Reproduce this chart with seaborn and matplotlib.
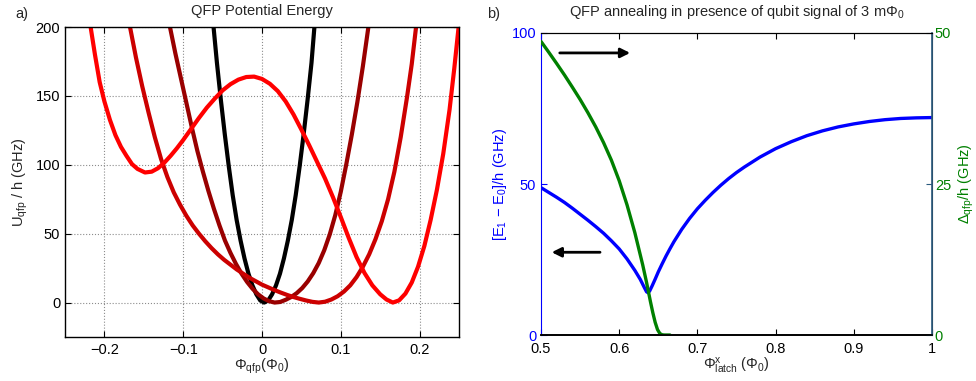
import numpy as np
import pandas as pd
import matplotlib.pyplot as plt
import seaborn as sns

# ---- panel a) : QFP potential ----
black_x = [-0.0615, -0.0572, -0.0522, -0.0472, -0.0422, -0.0372, -0.0322, -0.0272, -0.0222,
           -0.0172, -0.0122, -0.0072, -0.0022, 0.0028, 0.0078, 0.0128, 0.0178, 0.0228, 0.0278,
           0.0328, 0.0378, 0.0428, 0.0478, 0.0528, 0.0578, 0.0628, 0.0665]
black_y = [200, 174, 147, 122, 99, 78, 60, 45, 32, 21, 12.5, 6, 1.5, 0, 1.5, 6, 12.5, 21, 32,
           45, 60, 78, 99, 122, 147, 174, 200]

dark_x = [-0.1168, -0.11, -0.103, -0.096, -0.089, -0.082, -0.075, -0.068, -0.061, -0.054,
          -0.047, -0.04, -0.033, -0.026, -0.019, -0.012, -0.005, 0.002, 0.009, 0.016, 0.023,
          0.03, 0.037, 0.044, 0.051, 0.058, 0.065, 0.072, 0.079, 0.086, 0.093, 0.1, 0.107,
          0.114, 0.121, 0.128, 0.135]
dark_y = [200, 181, 163, 145, 127, 110, 95, 81, 68, 56, 45, 36, 28, 21, 15, 10, 6, 3, 1, 0,
          0.4, 2, 4, 6.8, 10.5, 15.3, 21.3, 28.7, 38, 49.5, 63.5, 80.5, 100.5, 122, 145.5,
          171.5, 200]

mid_x = [-0.1675, -0.16, -0.152, -0.144, -0.136, -0.128, -0.12, -0.112, -0.104, -0.096, -0.088,
         -0.08, -0.072, -0.064, -0.056, -0.048, -0.04, -0.032, -0.024, -0.016, -0.008, 0.0,
         0.008, 0.016, 0.024, 0.032, 0.04, 0.048, 0.056, 0.064, 0.072, 0.08, 0.088, 0.096,
         0.104, 0.112, 0.12, 0.128, 0.136, 0.144, 0.152, 0.16, 0.168, 0.176, 0.184, 0.19, 0.1955]
mid_y = [200, 178, 157, 138, 120, 104, 91, 80, 71, 63, 56, 50, 44.5, 39.5, 35, 31, 27.5, 24,
         21, 18, 15.5, 13, 11, 9, 7.2, 5.5, 4, 2.7, 1.5, 0.5, 0, 0.6, 2.2, 4.6, 8, 12.5, 18.5,
         26, 35, 46, 59, 75, 95, 120, 149, 173, 200]

red_x = [-0.2175, -0.212, -0.206, -0.2, -0.193, -0.186, -0.179, -0.172, -0.165, -0.158, -0.1485,
         -0.14, -0.132, -0.124, -0.116, -0.108, -0.1, -0.09, -0.08, -0.07, -0.06, -0.05, -0.04,
         -0.03, -0.02, -0.01, 0.0, 0.01, 0.02, 0.03, 0.04, 0.05, 0.06, 0.07, 0.08, 0.09, 0.1,
         0.11, 0.12, 0.13, 0.14, 0.15, 0.158, 0.166, 0.174, 0.182, 0.19, 0.198, 0.206, 0.214,
         0.222, 0.23, 0.238, 0.244, 0.2495]
red_y = [200, 180, 160, 146, 132.6, 121.5, 113, 106.5, 100.5, 97, 94.4, 95, 97.5, 101.5, 106.5,
         112, 118, 126, 134, 141.5, 148, 154, 158.5, 161.8, 163.7, 164, 162.3, 158.8, 153.5,
         146, 136.5, 125.5, 114, 102, 90, 76.5, 62, 47, 33, 21.5, 12.5, 6, 2.2, 0, 1.6, 6.5,
         14.5, 26, 41, 60, 82, 108, 140, 170, 200]

curve_colors = ['black', '#990000', '#cc0000', '#ff0000']

# ---- panel b) : annealing ----
gap_x = [0.5, 0.51, 0.52, 0.53, 0.54, 0.55, 0.56, 0.57, 0.58, 0.59, 0.6, 0.61, 0.62, 0.627,
         0.632, 0.635, 0.637, 0.639, 0.642, 0.646, 0.65, 0.655, 0.66, 0.665, 0.67, 0.68, 0.69,
         0.7, 0.71, 0.72, 0.73, 0.74, 0.75, 0.76, 0.78, 0.8, 0.82, 0.84, 0.86, 0.88, 0.9, 0.92,
         0.94, 0.96, 0.98, 1.0]
gap_y = [48.8, 47.2, 45.6, 43.9, 42.0, 40.0, 38.0, 35.9, 33.7, 31.2, 28.5, 25.2, 21.4, 18.4,
         15.8, 14.3, 14.0, 14.6, 16.2, 18.5, 20.9, 23.6, 26.2, 28.6, 30.9, 35.0, 38.6, 41.8,
         44.6, 47.2, 49.6, 51.8, 53.8, 55.6, 58.9, 61.7, 64.0, 66.0, 67.6, 68.9, 69.9, 70.7,
         71.3, 71.7, 71.9, 72.0]

delta_x = [0.5, 0.51, 0.52, 0.53, 0.54, 0.55, 0.56, 0.57, 0.58, 0.59, 0.6, 0.61, 0.62, 0.63,
           0.635, 0.64, 0.643, 0.646, 0.649, 0.652, 0.655, 0.658, 0.665]
delta_y = [48.6, 46.8, 44.95, 43.05, 41.05, 39.0, 36.8, 34.45, 31.85, 28.95, 25.55, 21.55,
           16.95, 11.65, 8.7, 5.5, 3.7, 2.1, 0.9, 0.25, 0.03, 0, 0]

sns.set_style('ticks')
plt.rcParams['font.family'] = ['Liberation Sans', 'DejaVu Sans']
plt.rcParams['mathtext.fontset'] = 'custom'
plt.rcParams['mathtext.rm'] = 'Liberation Sans'
plt.rcParams['mathtext.it'] = 'Liberation Sans:italic'
plt.rcParams['mathtext.default'] = 'regular'
plt.rcParams['font.size'] = 10.5

fig = plt.figure(figsize=(9.76, 3.81), dpi=100)
ax1 = fig.add_axes([0.0666, 0.1155, 0.4037, 0.8136])
ax2 = fig.add_axes([0.5543, 0.1207, 0.4006, 0.7927])

# left panel
for xs, ys, c in zip([black_x, dark_x, mid_x, red_x], [black_y, dark_y, mid_y, red_y], curve_colors):
    sns.lineplot(x=xs, y=ys, color=c, lw=3, ax=ax1, estimator=None, sort=False)
ax1.set_xlim(-0.25, 0.25)
ax1.set_ylim(-25, 200)
ax1.set_xticks([-0.2, -0.1, 0, 0.1, 0.2])
ax1.set_xticklabels(['\u22120.2', '\u22120.1', '0', '0.1', '0.2'])
ax1.set_yticks([0, 50, 100, 150, 200])
ax1.grid(True, ls=':', color='0.55', lw=0.8)
ax1.tick_params(direction='in', top=True, right=True, length=4, width=0.8, colors='black', labelsize=10.5)
ax1.tick_params(axis='x', pad=4)
for s in ax1.spines.values():
    s.set_color('black')
    s.set_linewidth(1)
ax1.set_title('QFP Potential Energy', fontsize=10.5, pad=9)
ax1.set_xlabel(r'$\Phi_{qfp}$($\Phi_0$)', labelpad=0)
ax1.set_ylabel(r'U$_{qfp}$ / h (GHz)', labelpad=4)

# right panel
blue = '#0000ff'
green = '#008000'
teal = '#2a5a7e'
sns.lineplot(x=gap_x, y=gap_y, color=blue, lw=2.4, ax=ax2, estimator=None, sort=False)
ax2.set_xlim(0.5, 1)
ax2.set_ylim(0, 100)
ax2.set_xticks([0.5, 0.6, 0.7, 0.8, 0.9, 1.0])
ax2.set_xticklabels(['0.5', '0.6', '0.7', '0.8', '0.9', '1'])
ax2.set_yticks([0, 50, 100])
ax2.tick_params(axis='x', direction='in', top=True, length=4, width=0.8, colors='black',
                labelsize=10.5, pad=5)
ax2.tick_params(axis='y', direction='in', length=4, width=0.8, colors=blue, labelsize=10.5)
ax2.set_ylabel('[E$_1$ \u2212 E$_0$]/h (GHz)', color=blue, labelpad=2)
ax2.set_xlabel(r'$\Phi^x_{latch}$ ($\Phi_0$)', labelpad=0)
ax2.set_title(r'QFP annealing in presence of qubit signal of 3 m$\Phi_0$', fontsize=10.5, pad=12)

ax3 = ax2.twinx()
sns.lineplot(x=delta_x, y=delta_y, color=green, lw=2.4, ax=ax3, estimator=None, sort=False)
ax3.set_ylim(0, 50)
ax3.set_yticks([0, 25, 50])
ax3.tick_params(axis='y', direction='in', length=4, width=0.8, colors=teal, labelcolor=green,
                labelsize=10.5, pad=2)
ax3.set_ylabel(r'$\Delta_{qfp}$/h (GHz)', color=green, labelpad=4)

for a in (ax2, ax3):
    a.spines['top'].set_color('black')
    a.spines['bottom'].set_color('black')
    a.spines['bottom'].set_linewidth(1.2)
ax2.spines['left'].set_color(blue)
ax3.spines['left'].set_visible(False)
ax3.spines['right'].set_color(teal)
ax3.spines['right'].set_linewidth(1.2)

arrow = dict(arrowstyle='-|>', color='black', lw=2, mutation_scale=14, shrinkA=0, shrinkB=0)
ax2.annotate('', xy=(0.614, 93.4), xytext=(0.524, 93.4), arrowprops=arrow)
ax2.annotate('', xy=(0.5137, 27.4), xytext=(0.5755, 27.4), arrowprops=arrow)

fig.text(15 / 976, 1 - 14 / 381, 'a)', fontsize=10.5, va='center')
fig.text(487 / 976, 1 - 14 / 381, 'b)', fontsize=10.5, va='center')

fig.savefig('out.png', dpi=100)
